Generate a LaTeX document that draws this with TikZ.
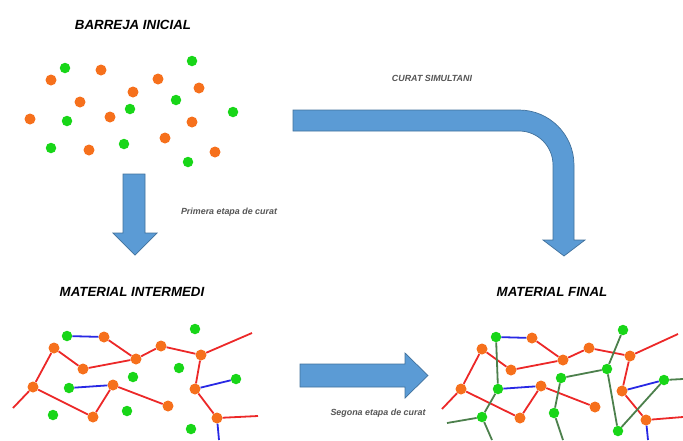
\documentclass[tikz,border=0pt]{standalone}
\usepackage{fontspec}
\setmainfont{Liberation Sans}
\usepackage{tikz}

\definecolor{dotorange}{RGB}{246,112,28}
\definecolor{dotgreen}{RGB}{24,214,24}
\definecolor{linered}{RGB}{236,40,40}
\definecolor{lineblue}{RGB}{40,40,228}
\definecolor{linegreen}{RGB}{76,128,76}
\definecolor{arrowblue}{RGB}{91,155,213}
\definecolor{arrowedge}{RGB}{65,113,156}
\definecolor{notegray}{RGB}{85,85,85}

\begin{document}
\begin{tikzpicture}[x=1pt,y=1pt,
	odot/.style={circle,fill=dotorange,inner sep=0pt,minimum size=11pt},
	gdot/.style={circle,fill=dotgreen,inner sep=0pt,minimum size=10.5pt},
	redl/.style={draw=linered,line width=1.8pt},
	bluel/.style={draw=lineblue,line width=1.8pt},
	grnl/.style={draw=linegreen,line width=1.8pt},
	blockarrow/.style={fill=arrowblue,draw=arrowedge,line width=0.7pt,line join=miter},
	title/.style={font=\bfseries\itshape\fontsize{13.3}{16}\selectfont},
	note/.style={text=notegray,font=\bfseries\itshape\fontsize{8.9}{10}\selectfont}]
	
	\useasboundingbox (0,0) rectangle (683,-440);
	
	\node[title] (mix) at (133,-25) {BARREJA INICIAL};
	\node[title] (mid) at (132,-292) {MATERIAL INTERMEDI};
	\node[title] (fin) at (552,-292) {MATERIAL FINAL};
	
	\node[note] (simul) at (432,-78) {CURAT SIMULTANI};
	\node[note] (step1) at (229,-212) {Primera etapa de curat};
	\node[note] (step2) at (378,-413) {Segona etapa de curat};
	
	\foreach \p/\q [count=\i] in {51/80,101/70,158/79,133/92,199/88,80/102,30/119,110/117,192/122,165/138,89/150,215/152}
		\node[odot] (bo\i) at (\p,-\q) {};
	\foreach \p/\q [count=\i] in {65/68,192/61,176/100,130/109,67/121,233/112,51/148,124/144,188/162}
		\node[gdot] (bg\i) at (\p,-\q) {};
	
	\draw[blockarrow] (123,-174) -- (145,-174) -- (145,-233) -- (157,-233) -- (135,-255)
		-- (113,-233) -- (123,-233) -- cycle;
	\draw[blockarrow] (293,-110) -- (519,-110) arc[start angle=90,end angle=0,radius=55]
		-- (574,-240) -- (585,-240) -- (564,-256) -- (543,-240) -- (553,-240) -- (553,-165)
		arc[start angle=0,end angle=90,radius=34] -- (293,-131) -- cycle;
	\draw[blockarrow] (300,-364) -- (405,-364) -- (405,-353) -- (428,-375.5) -- (405,-398)
		-- (405,-387) -- (300,-387) -- cycle;
	
	\node[odot] (i1) at (104,-337) {};
	\node[odot] (i2) at (54,-348) {};
	\node[odot] (i3) at (83,-369) {};
	\node[odot] (i4) at (136,-359) {};
	\node[odot] (i5) at (161,-346) {};
	\node[odot] (i6) at (201,-355) {};
	\node[odot] (i7) at (33,-387) {};
	\node[odot] (i8) at (113,-385) {};
	\node[odot] (i9) at (195,-389) {};
	\node[odot] (i10) at (168,-406) {};
	\node[odot] (i11) at (93,-417) {};
	\node[odot] (i12) at (217,-418) {};
	
	\node[gdot] (ig1) at (67,-336) {};
	\node[gdot] (ig2) at (195,-329) {};
	\node[gdot] (ig3) at (179,-368) {};
	\node[gdot] (ig4) at (133,-377) {};
	\node[gdot] (ig5) at (69,-388) {};
	\node[gdot] (ig6) at (236,-379) {};
	\node[gdot] (ig7) at (127,-411) {};
	\node[gdot] (ig8) at (53,-415) {};
	\node[gdot] (ig9) at (191,-429) {};
	
	\coordinate (ie1) at (13,-408);
	\coordinate (ie2) at (252,-333);
	\coordinate (ie3) at (258,-416);
	\coordinate (ie4) at (219,-440);
	
	\draw[redl] (ie1) -- (i7) -- (i2) -- (i3) -- (i4) -- (i5) -- (i6) -- (ie2);
	\draw[redl] (i4) -- (i1);
	\draw[redl] (i6) -- (i9) -- (i12) -- (ie3);
	\draw[redl] (i7) -- (i11) -- (i8) -- (i10);
	\draw[bluel] (ig1) -- (i1);
	\draw[bluel] (ig5) -- (i8);
	\draw[bluel] (i9) -- (ig6);
	\draw[bluel] (i12) -- (ie4);
	
	\node[odot] (f1) at (532,-338) {};
	\node[odot] (f2) at (482,-349) {};
	\node[odot] (f3) at (511,-370) {};
	\node[odot] (f4) at (563,-360) {};
	\node[odot] (f5) at (589,-348) {};
	\node[odot] (f6) at (630,-356) {};
	\node[odot] (f7) at (461,-389) {};
	\node[odot] (f8) at (541,-386) {};
	\node[odot] (f9) at (622,-391) {};
	\node[odot] (f10) at (595,-407) {};
	\node[odot] (f11) at (520,-418) {};
	\node[odot] (f12) at (646,-420) {};
	
	\node[gdot] (fg1) at (496,-337) {};
	\node[gdot] (fg2) at (623,-330) {};
	\node[gdot] (fg3) at (607,-369) {};
	\node[gdot] (fg4) at (561,-378) {};
	\node[gdot] (fg5) at (498,-389) {};
	\node[gdot] (fg6) at (664,-380) {};
	\node[gdot] (fg7) at (554,-413) {};
	\node[gdot] (fg8) at (482,-417) {};
	\node[gdot] (fg9) at (618,-431) {};
	
	\coordinate (fe1) at (442,-409);
	\coordinate (fe2) at (678,-334);
	\coordinate (fe3) at (683,-417);
	\coordinate (fe4) at (648,-440);
	\coordinate (fe5) at (447,-423);
	\coordinate (fe6) at (492,-440);
	\coordinate (fe7) at (563,-440);
	\coordinate (fe8) at (683,-379);
	
	\draw[redl] (fe1) -- (f7) -- (f2) -- (f3) -- (f4) -- (f5) -- (f6) -- (fe2);
	\draw[redl] (f4) -- (f1);
	\draw[redl] (f6) -- (f9) -- (f12) -- (fe3);
	\draw[redl] (f7) -- (f11) -- (f8) -- (f10);
	\draw[bluel] (fg1) -- (f1);
	\draw[bluel] (fg5) -- (f8);
	\draw[bluel] (f9) -- (fg6);
	\draw[bluel] (f12) -- (fe4);
	\draw[grnl] (fg1) -- (fg5) -- (fg8) -- (fe5);
	\draw[grnl] (fg8) -- (fe6);
	\draw[grnl] (fg2) -- (fg3) -- (fg4) -- (fg7) -- (fe7);
	\draw[grnl] (fg3) -- (fg9) -- (fg6) -- (fe8);
	
\end{tikzpicture}
\end{document}
